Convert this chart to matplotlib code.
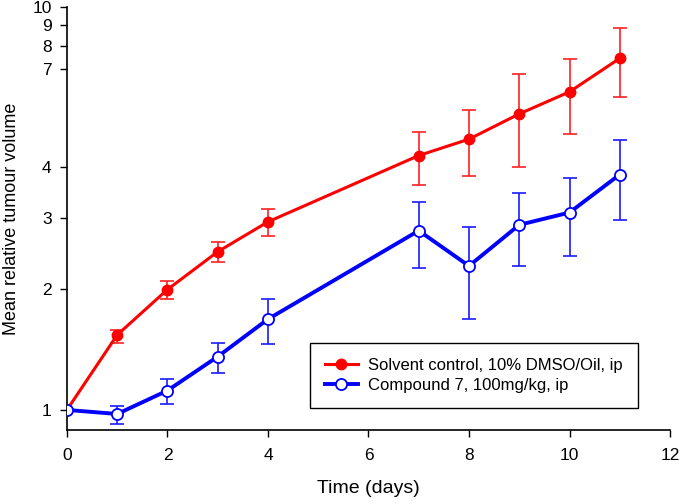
import matplotlib
matplotlib.use("Agg")
import matplotlib.pyplot as plt
from matplotlib.ticker import FixedLocator, FixedFormatter, NullLocator

plt.rcParams['font.family'] = ['Liberation Sans', 'DejaVu Sans']

days = [0, 1, 2, 3, 4, 7, 8, 9, 10, 11]

ctrl = [1.0, 1.535, 1.99, 2.47, 2.93, 4.28, 4.70, 5.43, 6.16, 7.46]
ctrl_hi = [1.0, 1.58, 2.09, 2.61, 3.15, 4.90, 5.55, 6.81, 7.43, 8.87]
ctrl_lo = [1.0, 1.47, 1.88, 2.33, 2.70, 3.62, 3.81, 4.00, 4.84, 5.97]

cmp7 = [1.0, 0.977, 1.117, 1.356, 1.68, 2.786, 2.277, 2.88, 3.09, 3.84]
cmp7_hi = [1.0, 1.023, 1.19, 1.47, 1.885, 3.29, 2.85, 3.45, 3.76, 4.69]
cmp7_lo = [1.0, 0.925, 1.035, 1.235, 1.46, 2.25, 1.68, 2.277, 2.415, 2.96]

y_ticks = [1, 2, 3, 4, 7, 8, 9, 10]
x_ticks = [0, 2, 4, 6, 8, 10, 12]

fig = plt.figure(figsize=(6.83, 5.04), dpi=100)
ax = fig.add_axes([0.098, 0.147, 0.883, 0.839])

def err(v, lo, hi):
    return [[a - b for a, b in zip(v, lo)], [b - a for a, b in zip(v, hi)]]

ax.errorbar(days[1:], ctrl[1:], yerr=err(ctrl[1:], ctrl_lo[1:], ctrl_hi[1:]),
            fmt='none', ecolor='#ff2020', elinewidth=1.2, capsize=4.8, capthick=1.2, zorder=2)
ax.errorbar(days[1:], cmp7[1:], yerr=err(cmp7[1:], cmp7_lo[1:], cmp7_hi[1:]),
            fmt='none', ecolor='#1a1aff', elinewidth=1.2, capsize=4.8, capthick=1.2, zorder=2)
ax.plot(days, ctrl, color='#ff0000', lw=2.2, marker='o', ms=7.5, mfc='#ff0000', mec='#ff0000',
        label='Solvent control, 10% DMSO/Oil, ip', zorder=3)
ax.plot(days, cmp7, color='#0000ff', lw=2.8, marker='o', ms=8, mfc='white', mec='#0000ff', mew=1.3,
        label='Compound 7, 100mg/kg, ip', zorder=4)

ax.set_yscale('log')
ax.set_ylim(0.892, 10)
ax.set_xlim(0, 12)
ax.yaxis.set_major_locator(FixedLocator(y_ticks))
ax.yaxis.set_major_formatter(FixedFormatter([str(t) for t in y_ticks]))
ax.yaxis.set_minor_locator(NullLocator())
ax.set_xticks(x_ticks)
ax.set_xticklabels([str(t) for t in x_ticks])

for s in ['top', 'right']:
    ax.spines[s].set_visible(False)
for s in ['left', 'bottom']:
    ax.spines[s].set_linewidth(1.2)
ax.tick_params(direction='out', length=5, width=1.0, labelsize=12.5, pad=6)
ax.tick_params(axis='x', pad=8)

ax.set_xlabel('Time (days)', fontsize=14, labelpad=12)
ax.set_ylabel('Mean relative tumour volume', fontsize=13, labelpad=9)

leg = ax.legend(loc='lower right', bbox_to_anchor=(0.96, 0.033), fontsize=12, frameon=True,
                fancybox=False, edgecolor='black', framealpha=1, handlelength=2.0,
                borderpad=0.9, labelspacing=0.3, handletextpad=0.6)
leg.get_frame().set_linewidth(1.0)

fig.savefig('out.png', dpi=100)
